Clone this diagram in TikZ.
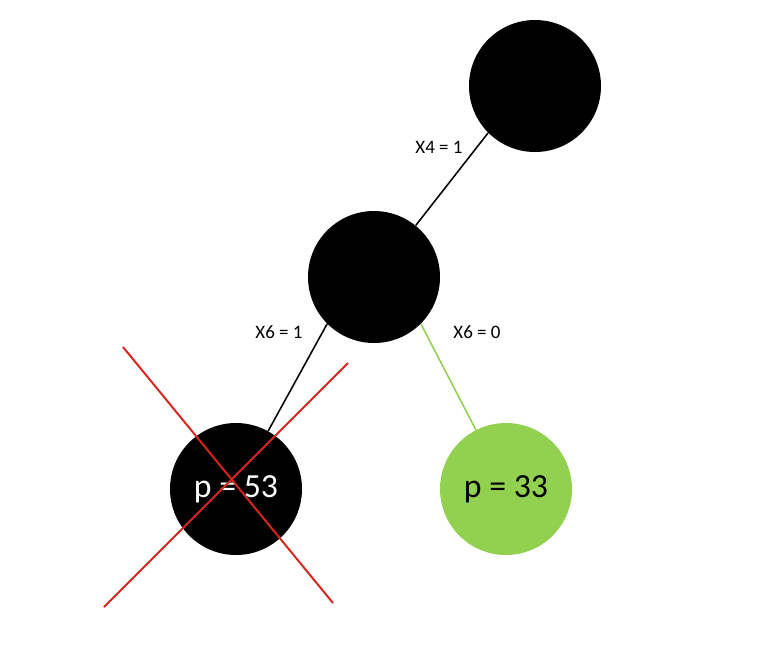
\documentclass[tikz,border=0pt]{standalone}
\usepackage{xcolor}
\usepackage{fontspec}
\setmainfont{Carlito}
\usepackage{tikz}
\definecolor{leafgreen}{RGB}{146,208,80}
\definecolor{crossred}{RGB}{218,37,29}
\tikzset{
	treenode/.style={circle, fill=black, minimum size=132*0.025cm, inner sep=0pt, text=white, font=\fontsize{24}{28}\selectfont},
	edgelabel/.style={font=\fontsize{13.5}{16}\selectfont},
	treeedge/.style={line width=1.1pt}
}

\begin{document}
\begin{tikzpicture}[x=0.025cm, y=-0.025cm]
	\useasboundingbox (0,0) rectangle (772,647);
	\node[treenode] (top) at (535,86) {};
	\node[treenode] (mid) at (374,277) {};
	\node[treenode] (left) at (236,489) {p = 53};
	\node[treenode, fill=leafgreen, text=black] (right) at (506,489) {p = 33};
	\draw[treeedge] (top.225) -- (mid.51);
	\draw[treeedge] (mid.225) -- (left.61);
	\draw[treeedge, leafgreen] (mid.315) -- (right.117);
	\node[edgelabel] (lab4) at (439,147) {X4 = 1};
	\node[edgelabel] (lab61) at (279,332) {X6 = 1};
	\node[edgelabel] (lab60) at (477,332) {X6 = 0};
	\coordinate (crossa) at (123,347);
	\coordinate (crossb) at (333,603);
	\coordinate (crossc) at (348,363);
	\coordinate (crossd) at (104,607);
	\draw[crossred, line width=1.4pt] (crossa) -- (crossb);
	\draw[crossred, line width=1.4pt] (crossc) -- (crossd);
\end{tikzpicture}
\end{document}
